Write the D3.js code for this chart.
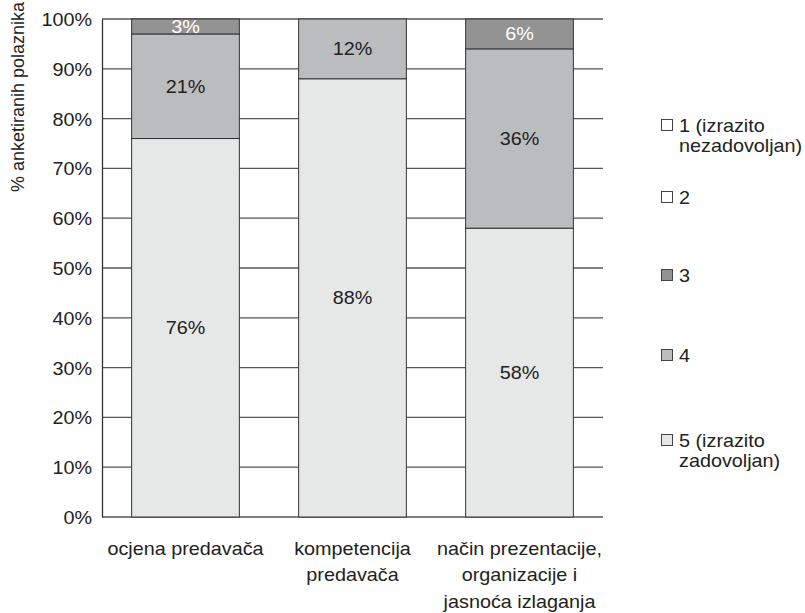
<!DOCTYPE html>
<html lang="hr">
  <head>
    <meta charset="UTF-8" />
    <title>Ocjena predavača</title>
    <style>
      body { margin: 0; background: #fff; }
      text { font-family: "Liberation Sans", Arial, sans-serif; }
    </style>
  </head>
  <body>
    <script src="https://d3js.org/d3.v7.min.js"></script>
    <script>
      // kategorije (x os), redovi teksta
      const categories = [
        ["ocjena predavača"],
        ["kompetencija", "predavača"],
        ["način prezentacije,", "organizacije i", "jasnoća izlaganja"],
      ];
      // ocjene 1..5, postotak po kategoriji
      const grades = ["1", "2", "3", "4", "5"];
      const grade1 = [0, 0, 0];
      const grade2 = [0, 0, 0];
      const grade3 = [3, 0, 6];
      const grade4 = [21, 12, 36];
      const grade5 = [76, 88, 58];
      const legendLabels = [
        ["1 (izrazito", "nezadovoljan)"],
        ["2"],
        ["3"],
        ["4"],
        ["5 (izrazito", "zadovoljan)"],
      ];
      const yTicks = [0, 10, 20, 30, 40, 50, 60, 70, 80, 90, 100];

      const colors = {
        "1": "#ffffff",
        "2": "#ffffff",
        "3": "#939393",
        "4": "#bbbcbe",
        "5": "#e6e8e7",
      };
      const labelColor = { "3": "#ffffff", "4": "#222", "5": "#222" };

      const width = 805, height = 613;
      const margin = { top: 19, right: 202, bottom: 96, left: 102 };
      const fontSize = 18;
      const sx = 1.1; // tekst je u originalu malo razvučen

      const svg = d3.select("body")
        .append("svg")
        .attr("width", width)
        .attr("height", height);

      // tekst u više redova, razvučen vodoravno
      function label(parent, x, y, lines, opts) {
        const g = parent.append("g")
          .attr("transform", `translate(${x},${y}) scale(${sx},1)`);
        const t = g.append("text")
          .attr("text-anchor", opts.anchor || "middle")
          .attr("font-size", fontSize)
          .attr("fill", opts.fill || "#222");
        lines.forEach((line, j) => {
          t.append("tspan")
            .attr("x", 0)
            .attr("dy", j === 0 ? 0 : opts.lh || 27)
            .text(line);
        });
        return g;
      }

      const table = categories.map((c, i) => ({
        key: i,
        "1": grade1[i],
        "2": grade2[i],
        "3": grade3[i],
        "4": grade4[i],
        "5": grade5[i],
      }));

      // slaganje od ocjene 5 (dno) prema 1 (vrh)
      const stackOrder = ["5", "4", "3", "2", "1"];
      const series = d3.stack().keys(stackOrder)(table);

      const x = d3.scaleBand()
        .domain(categories.map((c, i) => i))
        .range([margin.left, width - margin.right])
        .paddingInner(0.355)
        .paddingOuter(0.1775);

      const y = d3.scaleLinear()
        .domain([0, 100])
        .range([height - margin.bottom, margin.top]);

      // mreža
      svg.append("g")
        .attr("stroke", "#555")
        .attr("stroke-width", 1.3)
        .selectAll("line")
        .data(yTicks)
        .join("line")
        .attr("x1", margin.left)
        .attr("x2", width - margin.right)
        .attr("y1", (d) => y(d))
        .attr("y2", (d) => y(d));

      // y os
      const yAxis = svg.append("g")
        .attr("transform", `translate(${margin.left},0)`)
        .call(d3.axisLeft(y).tickValues(yTicks).tickSize(0).tickPadding(0)
          .tickFormat((d) => d + "%"));
      yAxis.select(".domain").attr("stroke", "#333").attr("stroke-width", 1.3);
      yAxis.selectAll(".tick text")
        .attr("x", -10 / sx)
        .attr("dy", "0.36em")
        .attr("transform", `scale(${sx},1)`)
        .attr("font-size", fontSize)
        .attr("fill", "#222")
        .attr("font-family", "Liberation Sans, Arial, sans-serif");

      svg.append("text")
        .attr("transform", `translate(24, 97) rotate(-90)`)
        .attr("text-anchor", "middle")
        .attr("font-size", fontSize)
        .attr("fill", "#222")
        .text("% anketiranih polaznika");

      // stupci
      const layers = svg.append("g")
        .selectAll("g")
        .data(series)
        .join("g")
        .attr("fill", (s) => colors[s.key]);

      layers.selectAll("rect")
        .data((s) => s.filter((d) => d[1] - d[0] > 0))
        .join("rect")
        .attr("x", (d) => x(d.data.key))
        .attr("width", x.bandwidth())
        .attr("y", (d) => y(d[1]))
        .attr("height", (d) => y(d[0]) - y(d[1]))
        .attr("stroke", "#333")
        .attr("stroke-width", 1);

      // oznake vrijednosti
      const valueGroup = svg.append("g");
      series.forEach((s) => {
        s.filter((d) => d[1] - d[0] > 0).forEach((d) => {
          label(valueGroup,
            x(d.data.key) + x.bandwidth() / 2,
            y((d[0] + d[1]) / 2) + 6.5,
            [d[1] - d[0] + "%"],
            { fill: labelColor[s.key] });
        });
      });

      // kategorije
      const catGroup = svg.append("g");
      categories.forEach((lines, i) => {
        label(catGroup, x(i) + x.bandwidth() / 2, 554.5, lines, { lh: 27 });
      });

      // legenda
      const legendY = [125, 197, 275, 355, 440];
      const legend = svg.append("g")
        .selectAll("g")
        .data(grades)
        .join("g")
        .attr("transform", (d, i) => `translate(661, ${legendY[i]})`);

      legend.append("rect")
        .attr("x", 0.5)
        .attr("y", -5.5)
        .attr("width", 11)
        .attr("height", 11)
        .attr("fill", (d) => colors[d])
        .attr("stroke", "#444")
        .attr("stroke-width", 1);

      legend.each(function (d, i) {
        label(d3.select(this), 18, 6.5, legendLabels[i],
          { anchor: "start", lh: 21 });
      });
    </script>
  </body>
</html>
